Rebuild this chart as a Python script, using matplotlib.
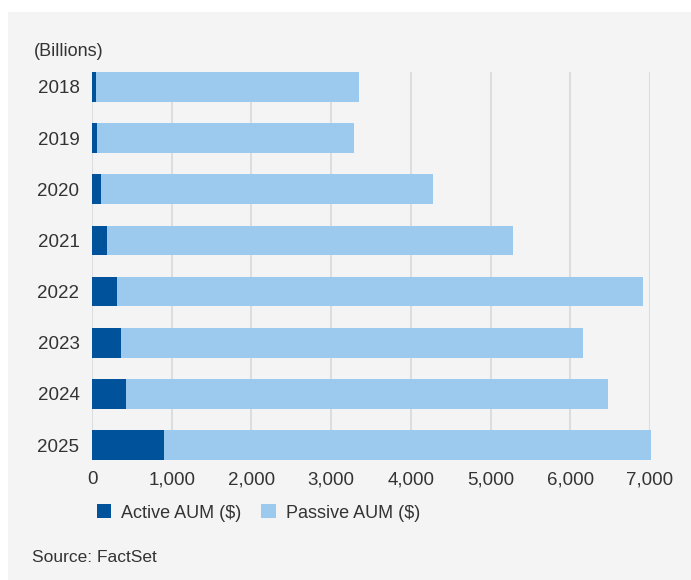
import numpy as np
import matplotlib.pyplot as plt
from matplotlib.patches import Rectangle, Patch

plt.rcParams['font.family'] = ['Liberation Sans', 'DejaVu Sans']

# values (billions, USD)
years = ["2018", "2019", "2020", "2021", "2022", "2023", "2024", "2025"]
active = [50, 63, 113, 188, 314, 364, 427, 903]
total = [3350, 3287, 4278, 5282, 6913, 6160, 6473, 7013]
passive = [t - a for t, a in zip(total, active)]
xticks = [0, 1000, 2000, 3000, 4000, 5000, 6000, 7000]

active_color = "#00539b"
passive_color = "#9bcaee"
bg = "#f4f4f4"
text_color = "#333333"

W, H = 691, 580
fig = plt.figure(figsize=(W / 100, H / 100), dpi=100, facecolor="white")

# gray panel behind everything
fig.patches.append(Rectangle((8 / W, 0), 1 - 8 / W, 1 - 12 / H, transform=fig.transFigure,
                             facecolor=bg, edgecolor="none", zorder=-10))

ax = fig.add_axes([92 / W, 1 - 460 / H, (650 - 92) / W, (460 - 72) / H])
ax.set_zorder(1)
ax.patch.set_alpha(0)

y = np.arange(len(years))
h = 0.58
ax.barh(y, active, height=h, color=active_color, zorder=3, clip_on=False)
ax.barh(y, passive, left=active, height=h, color=passive_color, zorder=3, clip_on=False)

ax.set_xlim(0, 7000)
ax.set_ylim(len(years) - 1 + h / 2, -h / 2)
ax.set_xticks(xticks)
ax.set_xticklabels([f"{v:,}" for v in xticks])
ax.set_yticks(y)
ax.set_yticklabels(years)
ax.tick_params(axis="both", length=0, labelsize=13.5, colors=text_color)
ax.tick_params(axis="y", pad=9)
ax.tick_params(axis="x", pad=8)
ax.grid(axis="x", color="#dcdde0", linewidth=1.5, zorder=1)
for s in ax.spines.values():
    s.set_visible(False)

fig.text(34 / W, 1 - 51 / H, "(Billions)", fontsize=13, color=text_color, va="center", ha="left")

handles = [Patch(facecolor=active_color, label="Active AUM ($)"),
           Patch(facecolor=passive_color, label="Passive AUM ($)")]
fig.legend(handles=handles, loc="center left", bbox_to_anchor=(97 / W, 1 - 513 / H),
           ncol=2, frameon=False, fontsize=13, labelcolor=text_color,
           handlelength=0.8, handleheight=0.8, handletextpad=0.55,
           columnspacing=1.1, borderpad=0, borderaxespad=0)

fig.text(32 / W, 1 - 558 / H, "Source: FactSet", fontsize=12.5, color=text_color, va="center", ha="left")

fig.savefig("out.png", dpi=100, facecolor="white")
